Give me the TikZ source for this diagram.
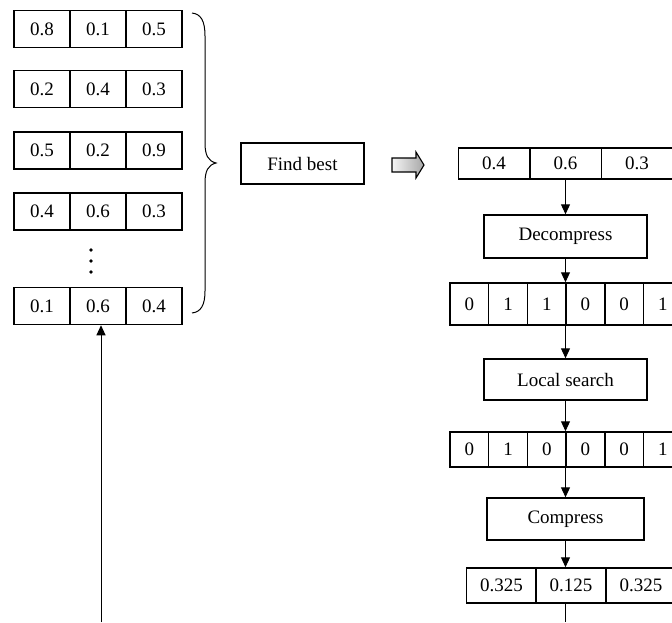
\documentclass[tikz,border=0pt]{standalone}
\usepackage{fontspec}
\setmainfont{Liberation Serif}
\usetikzlibrary{arrows.meta}
\begin{document}
\begin{tikzpicture}[x=1pt,y=-1pt,
  cell/.style={draw, line width=1.5pt, inner sep=0pt, font=\fontsize{19}{22}\selectfont},
  proc/.style={draw, line width=1.4pt, inner sep=0pt, font=\fontsize{19}{22}\selectfont},
  conn/.style={line width=1pt, -{Triangle[length=10pt,width=9pt]}},
  plainline/.style={line width=1pt},
  dotmark/.style={circle, fill=black, inner sep=0pt, minimum size=3.6pt},
  blockarrow/.style={draw, line width=1.1pt, left color=gray!8, right color=gray!70}]
\useasboundingbox (0,0) rectangle (672,622);

% left population
\foreach \r/\y/\a/\b/\c in {1/29/0.8/0.1/0.5,2/89/0.2/0.4/0.3,3/150.5/0.5/0.2/0.9,4/211.5/0.4/0.6/0.3,5/306/0.1/0.6/0.4}{
  \node[cell, minimum width=56pt, minimum height=37pt] (l\r-a) at (42,\y) {\a};
  \node[cell, minimum width=56pt, minimum height=37pt] (l\r-b) at (98,\y) {\b};
  \node[cell, minimum width=56pt, minimum height=37pt] (l\r-c) at (154,\y) {\c};
}
\node[dotmark] (d1) at (91,250) {};
\node[dotmark] (d2) at (91,261) {};
\node[dotmark] (d3) at (91,272) {};

% brace
\draw[line width=1pt] (192,13) .. controls (201,14) and (205,21) .. (205,36) -- (205,143)
  .. controls (205,155) and (208,161) .. (216,163)
  .. controls (208,165) and (205,171) .. (205,183) -- (205,291)
  .. controls (205,305) and (201,312) .. (192,313);

% upward arrow
\coordinate (lstart) at (101,622);
\draw[conn] (lstart) -- (lstart |- l5-b.south);

% find best
\node[proc, minimum width=123pt, minimum height=41pt] (find) at (302.5,163.5) {Find best};

% block arrow
\path[blockarrow] (392,158) -- (416,158) -- (416,152) -- (424,165) -- (416,178) -- (416,172) -- (392,172) -- cycle;

% right column
\node[cell, minimum width=71.5pt, minimum height=31pt] (t-a) at (494,163.5) {0.4};
\node[cell, minimum width=71.5pt, minimum height=31pt] (t-b) at (565.5,163.5) {0.6};
\node[cell, minimum width=71.5pt, minimum height=31pt] (t-c) at (637,163.5) {0.3};

\node[proc, minimum width=163pt, minimum height=43pt] (dec) at (565.5,236.5) {Decompress};

\foreach \i/\v in {1/0,2/1,3/1,4/0,5/0,6/1}{
  \node[cell, minimum width=38.7pt, minimum height=42pt] (m1-\i) at ({450+38.7*(\i-0.5)},304) {\v};
}

\node[proc, minimum width=163pt, minimum height=41pt] (ls) at (565.5,379.5) {Local search};

\foreach \i/\v in {1/0,2/1,3/0,4/0,5/0,6/1}{
  \node[cell, minimum width=38.7pt, minimum height=35pt] (m2-\i) at ({450+38.7*(\i-0.5)},449.5) {\v};
}

\node[proc, minimum width=157pt, minimum height=42pt] (cmp) at (565.5,519) {Compress};

\node[cell, minimum width=70pt, minimum height=35pt] (b-a) at (501.5,585.5) {0.325};
\node[cell, minimum width=70pt, minimum height=35pt] (b-b) at (571,585.5) {0.125};
\node[cell, minimum width=70pt, minimum height=35pt] (b-c) at (641,585.5) {0.325};

% connectors
\draw[conn] (t-b.south) -- (dec.north);
\draw[conn] (dec.south) -- (dec.south |- m1-3.north);
\draw[conn] (dec.south |- m1-3.south) -- (ls.north);
\draw[conn] (ls.south) -- (ls.south |- m2-3.north);
\draw[conn] (ls.south |- m2-3.south) -- (cmp.north);
\draw[conn] (cmp.south) -- (cmp.south |- b-b.north);
\coordinate (rend) at (566,622);
\draw[plainline] (cmp.south |- b-b.south) -- (cmp.south |- rend);
\end{tikzpicture}
\end{document}
